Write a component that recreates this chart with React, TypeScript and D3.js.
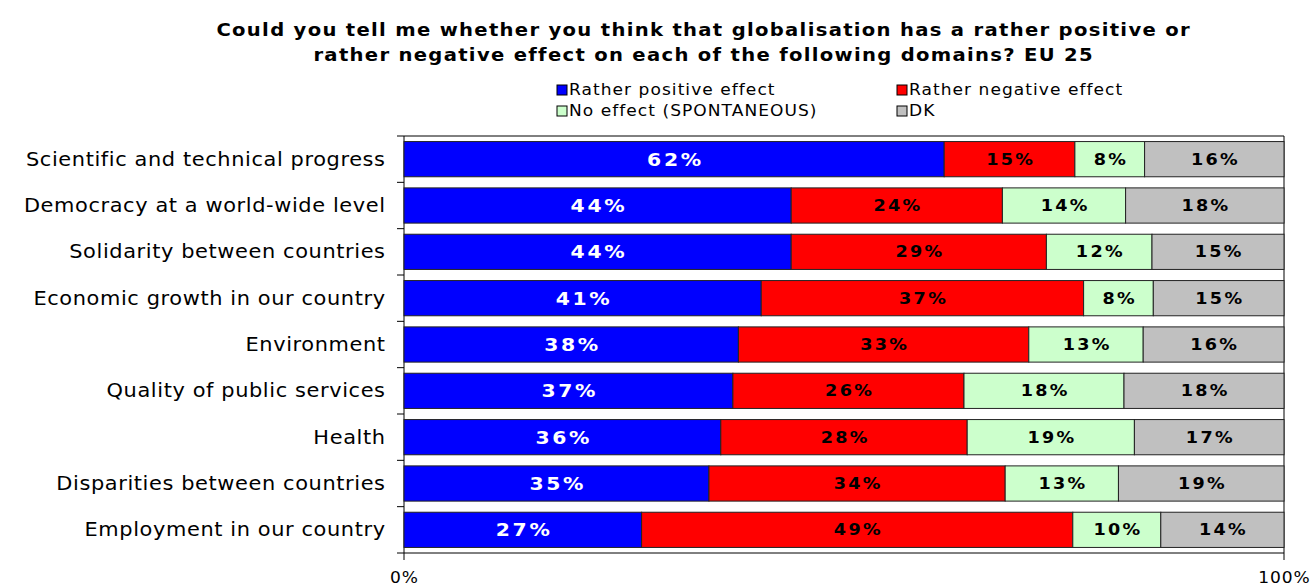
import React from "react";
import * as d3 from "d3";

const categories = [
  "Scientific and technical progress",
  "Democracy at a world-wide level",
  "Solidarity between countries ",
  "Economic growth in our country",
  "Environment",
  "Quality of public services",
  "Health",
  "Disparities between countries",
  "Employment in our country",
];
const positive = [62, 44, 44, 41, 38, 37, 36, 35, 27];
const negative = [15, 24, 29, 37, 33, 26, 28, 34, 49];
const noEffect = [8, 14, 12, 8, 13, 18, 19, 13, 10];
const dk = [16, 18, 15, 15, 16, 18, 17, 19, 14];

const seriesNames = ["Rather positive effect", "Rather negative effect", "No effect (SPONTANEOUS)", "DK"];
const seriesColors = ["#0000FF", "#FF0000", "#CCFFCC", "#C0C0C0"];
const labelColors = ["#FFFFFF", "#000000", "#000000", "#000000"];
const titleLines = [
  "Could you tell me whether you think that globalisation has a rather positive or",
  "rather negative effect on each of the following domains? EU 25",
];
const axisTicks = [0, 1];

const W = 1311;
const H = 586;
const FONT = "'DejaVu Sans', Verdana, sans-serif";
const SX = 1.1;

type TProps = {
  x: number;
  y: number;
  anchor?: "start" | "middle" | "end";
  size: number;
  ls: number;
  bold?: boolean;
  fill?: string;
  sx?: number;
  children: React.ReactNode;
};

function WideText({ x, y, anchor = "start", size, ls, bold, fill = "#000", sx = SX, children }: TProps) {
  // compensate trailing letter-spacing for centered/ended text
  const shift = anchor === "middle" ? ls / 2 : anchor === "end" ? ls : 0;
  return (
    <text
      transform={`translate(${x},${y}) scale(${sx},1)`}
      dx={shift}
      dy="0.35em"
      textAnchor={anchor}
      fontSize={size}
      letterSpacing={ls}
      fontWeight={bold ? "bold" : "normal"}
      fill={fill}
    >
      {children}
    </text>
  );
}

export default function App() {
  const left = 404;
  const right = 1284;
  const top = 136;
  const bottom = 553;
  const x = d3.scaleLinear().domain([0, 1]).range([left, right]);
  const y = d3.scaleBand().domain(categories).range([top, bottom]).paddingInner(0.24).paddingOuter(0.12);
  const series = [positive, negative, noEffect, dk];
  const rows = categories.map((c, i) => {
    const vals = series.map((s) => s[i]);
    const total = d3.sum(vals);
    let acc = 0;
    return vals.map((v, k) => {
      const x0 = acc / total;
      acc += v;
      return { cat: c, k, v, x0, x1: acc / total };
    });
  });
  const step = (bottom - top) / categories.length;
  const boundaries = d3.range(categories.length + 1).map((i) => top + i * step);

  return (
    <svg width={W} height={H} style={{ display: "block", position: "absolute", left: 0, top: 0, background: "#fff" }} fontFamily={FONT}>
      {titleLines.map((t, i) => (
        <WideText key={i} x={703} y={30 + i * 25} anchor="middle" size={17.5} ls={1.17} sx={1.12} bold>
          {t}
        </WideText>
      ))}
      {seriesNames.map((n, i) => {
        const lx = i % 2 === 0 ? 557 : 897;
        const ly = i < 2 ? 90 : 111;
        return (
          <g key={n}>
            <rect x={lx} y={ly - 5} width={10} height={10} fill={seriesColors[i]} stroke="#000" strokeWidth={1} />
            <WideText x={lx + 12} y={ly} size={15.5} ls={0.95}>{n}</WideText>
          </g>
        );
      })}
      {/* frame */}
      <line x1={left} x2={right} y1={top} y2={top} stroke="#000" />
      <line x1={right} x2={right} y1={top} y2={bottom} stroke="#000" />
      <line x1={left} x2={right} y1={bottom} y2={bottom} stroke="#000" />
      <line x1={left} x2={left} y1={top} y2={bottom} stroke="#000" />
      {boundaries.map((b, i) => (
        <line key={i} x1={left - 7} x2={left} y1={b} y2={b} stroke="#000" />
      ))}
      {axisTicks.map((t) => (
        <g key={t}>
          <line x1={x(t)} x2={x(t)} y1={bottom} y2={bottom + 7} stroke="#000" />
          <WideText x={x(t)} y={578} anchor="middle" size={15.5} ls={0.8}>
            {d3.format(".0%")(t)}
          </WideText>
        </g>
      ))}
      {rows.map((segs, i) => (
        <g key={i}>
          {segs.map((s) => (
            <g key={s.k}>
              <rect
                x={x(s.x0)}
                y={y(s.cat)!}
                width={x(s.x1) - x(s.x0)}
                height={y.bandwidth()}
                fill={seriesColors[s.k]}
                stroke="#222"
                strokeWidth={1}
              />
              <WideText
                x={(x(s.x0) + x(s.x1)) / 2}
                y={y(s.cat)! + y.bandwidth() / 2}
                anchor="middle"
                bold
                size={s.k === 0 ? 18.5 : 16}
                ls={s.k === 0 ? 2.4 : 2.1}
                fill={labelColors[s.k]}
              >
                {s.v}%
              </WideText>
            </g>
          ))}
          <WideText x={385} y={y(segs[0].cat)! + y.bandwidth() / 2} anchor="end" size={19} ls={0.55}>
            {categories[i]}
          </WideText>
        </g>
      ))}
    </svg>
  );
}
